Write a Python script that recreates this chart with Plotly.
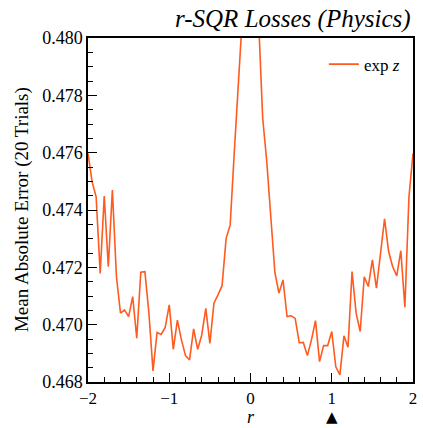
import plotly.graph_objects as go

r_values = [-2.00, -1.95, -1.90, -1.85, -1.80, -1.75, -1.70, -1.65, -1.60, -1.55,
            -1.50, -1.45, -1.40, -1.35, -1.30, -1.25, -1.20, -1.15, -1.10, -1.05,
            -1.00, -0.95, -0.90, -0.85, -0.80, -0.75, -0.70, -0.65, -0.60, -0.55,
            -0.50, -0.45, -0.40, -0.35, -0.30, -0.25, -0.20, -0.15, -0.10, -0.05,
            0.00, 0.05, 0.10, 0.15, 0.20, 0.25, 0.30, 0.35, 0.40, 0.45,
            0.50, 0.55, 0.60, 0.65, 0.70, 0.75, 0.80, 0.85, 0.90, 0.95,
            1.00, 1.05, 1.10, 1.15, 1.20, 1.25, 1.30, 1.35, 1.40, 1.45,
            1.50, 1.55, 1.60, 1.65, 1.70, 1.75, 1.80, 1.85, 1.90, 1.95, 2.00]

mae_exp_z = [0.47598, 0.47499, 0.47446, 0.47179, 0.47449, 0.47202, 0.47470, 0.47167, 0.47040, 0.47051,
             0.47028, 0.47098, 0.46953, 0.47183, 0.47185, 0.47040, 0.46839, 0.46973, 0.46966, 0.46990,
             0.47069, 0.46914, 0.47016, 0.46947, 0.46892, 0.46877, 0.46985, 0.46914, 0.46964, 0.47057,
             0.46935, 0.47075, 0.47104, 0.47136, 0.47301, 0.47348, 0.47600, 0.47830, 0.48100, 0.48450,
             0.48550, 0.48400, 0.48030, 0.47720, 0.47570, 0.47360, 0.47182, 0.47110, 0.47156, 0.47028,
             0.47031, 0.47022, 0.46937, 0.46938, 0.46892, 0.46947, 0.47014, 0.46871, 0.46927, 0.46927,
             0.46976, 0.46853, 0.46825, 0.46961, 0.46921, 0.47185, 0.47040, 0.46976, 0.47167, 0.47133,
             0.47226, 0.47127, 0.47249, 0.47369, 0.47255, 0.47202, 0.47170, 0.47258, 0.47061, 0.47445, 0.47598]

marker_r = 1.0

x_ticks = [-2, -1, 0, 1, 2]
x_ticktext = ["\u22122", "\u22121", "0", "1", "2"]
y_ticks = [0.468, 0.470, 0.472, 0.474, 0.476, 0.478, 0.480]
y_ticktext = ["0.468", "0.470", "0.472", "0.474", "0.476", "0.478", "0.480"]

SERIF = "Liberation Serif, DejaVu Serif, serif"
LINE = "#ff5a1f"

fig = go.Figure()
fig.add_trace(go.Scatter(x=r_values, y=mae_exp_z, mode="lines", name="exp <i>z</i>",
                         line=dict(color=LINE, width=1.6)))

fig.update_layout(
    width=423, height=428,
    margin=dict(l=88, r=10, t=38, b=46, autoexpand=False),
    paper_bgcolor="white", plot_bgcolor="white",
    font=dict(family=SERIF, size=16, color="black"),
    showlegend=True,
    legend=dict(x=0.975, y=0.975, xanchor="right", yanchor="top",
                bgcolor="rgba(255,255,255,0)", borderwidth=0,
                font=dict(family=SERIF, size=17)),
    annotations=[
        dict(text="<i>r-SQR Losses (Physics)</i>", xref="paper", yref="paper",
             x=1.0, y=1.055, xanchor="right", yanchor="middle", showarrow=False,
             font=dict(family=SERIF, size=25)),
        dict(text="Mean Absolute Error (20 Trials)", xref="paper", yref="paper",
             x=-0.203, y=0.5, xanchor="center", yanchor="middle", textangle=-90,
             showarrow=False, font=dict(family=SERIF, size=19)),
        dict(text="<i>r</i>", xref="paper", yref="paper",
             x=0.5, y=-0.102, xanchor="center", yanchor="middle", showarrow=False,
             borderpad=0, font=dict(family=SERIF, size=18)),
        dict(text="\u25b2", xref="x", yref="paper",
             x=marker_r, y=-0.102, xanchor="center", yanchor="middle", showarrow=False,
             borderpad=0, font=dict(family="DejaVu Sans", size=15, color="black")),
    ],
)

fig.update_xaxes(range=[-2, 2], tickvals=x_ticks, ticktext=x_ticktext, automargin=False,
                 ticks="inside", ticklen=9, tickwidth=1.3, tickcolor="black",
                 minor=dict(ticks="inside", dtick=0.2, tick0=0, ticklen=5, tickwidth=1.1, tickcolor="black"),
                 showline=True, linecolor="black", linewidth=1.5, mirror=True,
                 showgrid=False, zeroline=False,
                 tickfont=dict(family=SERIF, size=17))
fig.update_yaxes(range=[0.468, 0.480], tickvals=y_ticks, ticktext=y_ticktext, automargin=False,
                 ticks="inside", ticklen=9, tickwidth=1.3, tickcolor="black",
                 minor=dict(ticks="inside", dtick=0.0005, tick0=0.468, ticklen=5, tickwidth=1.1, tickcolor="black"),
                 showline=True, linecolor="black", linewidth=1.5, mirror=True,
                 showgrid=False, zeroline=False,
                 tickfont=dict(family=SERIF, size=18))

fig.write_html(
    "out.html",
    config={"displayModeBar": False, "responsive": False},
    post_script="document.body.style.margin='0';document.body.style.overflow='hidden';"
                "document.documentElement.style.overflow='hidden';",
)
